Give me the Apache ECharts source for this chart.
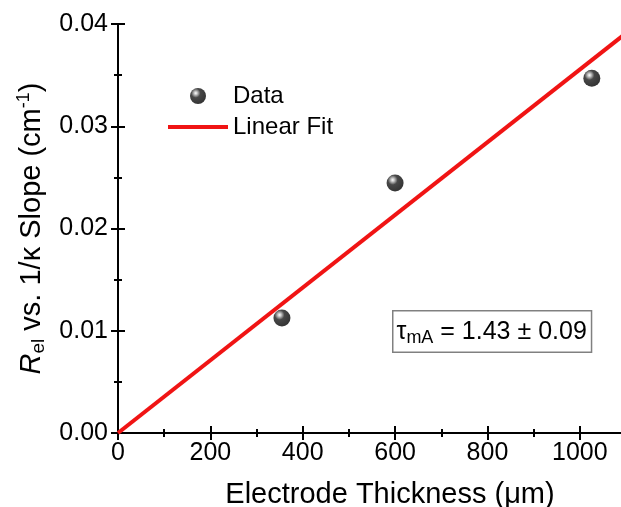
<!DOCTYPE html>
<html><head><meta charset="utf-8">
<script src="https://cdn.jsdelivr.net/npm/echarts@6/dist/echarts.min.js"></script>
<style>html,body{margin:0;padding:0;background:#fff}#c{width:621px;height:507px}</style>
</head><body><div id="c"></div>
<script>
const thickness = [355, 600, 1026];
const slopeValues = [0.01125, 0.02445, 0.0347];
const fitX = [0, 1100];
const fitY = [0, 0.0391];
const xTicks = [0, 200, 400, 600, 800, 1000];
const yTicks = [0.00, 0.01, 0.02, 0.03, 0.04];
const tauLabel = 'τ';
const tauSub = 'mA';
const tauValue = ' = 1.43 ± 0.09';

const FONT = '"Liberation Sans", Arial, sans-serif';
const chart = echarts.init(document.getElementById('c'));
const axisLine = {show: true, lineStyle: {color: '#000', width: 2}};
const tick = {show: true, inside: true, length: 7, lineStyle: {color: '#000', width: 2}};
const minor = {show: true, splitNumber: 2, length: 4, lineStyle: {color: '#000', width: 2}};
const sphere = {type: 'radial', x: 0.36, y: 0.32, r: 0.72, colorStops: [
  {offset: 0, color: '#ffffff'}, {offset: 0.14, color: '#b8b8b8'},
  {offset: 0.4, color: '#1a1a1a'}, {offset: 1, color: '#000000'}]};

chart.setOption({
  animation: false,
  grid: {left: 118, top: 24, width: 508, height: 409, containLabel: false, outerBoundsMode: 'none'},
  xAxis: [{
    type: 'value', min: 0, max: 1100, interval: 200, position: 'bottom',
    axisLine, axisTick: tick, minorTick: minor, splitLine: {show: false},
    axisLabel: {show: true, showMaxLabel: false, fontSize: 25, color: '#000', fontFamily: FONT, margin: 8,
      formatter: v => xTicks.indexOf(v) >= 0 ? String(v) : ''},
    name: 'Electrode Thickness (μm)', nameLocation: 'middle', nameGap: 47,
    nameTextStyle: {fontSize: 29, color: '#000', fontFamily: FONT, padding: [0, 0, 0, 36]}
  }, {
    type: 'value', min: 0, max: 1100, interval: 200, position: 'top',
    axisLine, axisTick: tick, minorTick: minor, splitLine: {show: false},
    axisLabel: {show: false}
  }],
  yAxis: [{
    type: 'value', min: 0, max: 0.04, interval: 0.01, position: 'left',
    axisLine, axisTick: tick, minorTick: minor, splitLine: {show: false},
    axisLabel: {fontSize: 25, color: '#000', fontFamily: FONT, margin: 10,
      formatter: v => { const t = yTicks.find(y => Math.abs(y - v) < 1e-9); return t === undefined ? '' : t.toFixed(2); }},
    name: '{i|R}{sub|el}{n| vs. 1/κ Slope (cm}{sup|-1}{n|)}', nameLocation: 'middle', nameGap: 70, nameRotate: 90,
    nameTextStyle: {color: '#000', fontFamily: FONT, fontSize: 29,
      rich: {
        i: {fontSize: 29, fontStyle: 'italic', fontFamily: FONT, color: '#000', lineHeight: 33},
        n: {fontSize: 29, fontFamily: FONT, color: '#000', lineHeight: 33},
        sub: {fontSize: 19, fontFamily: FONT, color: '#000', verticalAlign: 'bottom', lineHeight: 19},
        sup: {fontSize: 18, fontFamily: FONT, color: '#000', verticalAlign: 'top', lineHeight: 18}
      }}
  }, {
    type: 'value', min: 0, max: 0.04, interval: 0.01, position: 'right',
    axisLine, axisTick: tick, minorTick: minor, splitLine: {show: false},
    axisLabel: {show: false}
  }],
  legend: {
    orient: 'vertical', left: 168, top: 84, padding: 0, itemWidth: 60, itemHeight: 16, itemGap: 7,
    textStyle: {fontSize: 24, color: '#000', fontFamily: FONT, lineHeight: 24},
    data: [{name: 'Data'}, {name: 'Linear Fit', icon: 'path://M0,0L60,0L60,4L0,4Z'}]
  },
  series: [{
    name: 'Linear Fit', type: 'line', symbol: 'none', z: 2,
    data: fitX.map((x, i) => [x, fitY[i]]),
    lineStyle: {color: '#f01414', width: 4}, itemStyle: {color: '#f01414'}
  }, {
    name: 'Data', type: 'scatter', symbol: 'circle', symbolSize: 17, z: 3,
    data: thickness.map((x, i) => [x, slopeValues[i]]),
    itemStyle: {color: sphere}
  }],
  graphic: [{
    type: 'text', left: 392, top: 310, z: 10,
    style: {
      text: '{t|' + tauLabel + '}{s|' + tauSub + '}{t|' + tauValue + '}',
      backgroundColor: '#fff', borderColor: '#808080', borderWidth: 1.5, padding: [6, 4, 4, 3],
      rich: {
        t: {fontSize: 25, fontFamily: FONT, fill: '#000', lineHeight: 30},
        s: {fontSize: 18, fontFamily: FONT, fill: '#000', verticalAlign: 'bottom', lineHeight: 18}
      }
    }
  }]
});
</script></body></html>
